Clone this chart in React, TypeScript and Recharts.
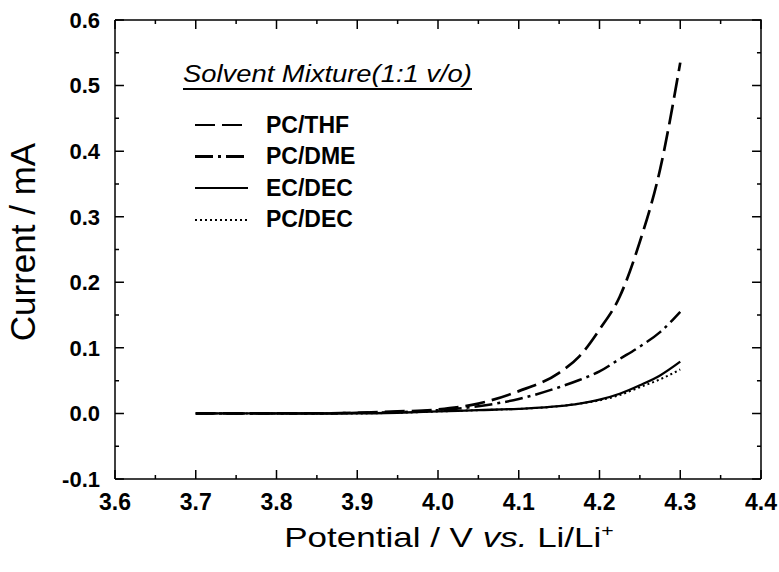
import React from 'react';
import { LineChart, Line, XAxis, YAxis, Legend } from 'recharts';

// Potential (V vs. Li/Li+) and current (mA)
const potentials = [3.7, 3.75, 3.8, 3.85, 3.9, 3.95, 4.0, 4.05, 4.1, 4.15, 4.175, 4.2, 4.225, 4.25, 4.275, 4.3];
const pcThf = [0, 0, 0, 0, 0.001, 0.003, 0.006, 0.015, 0.034, 0.062, 0.087, 0.128, 0.178, 0.262, 0.372, 0.535];
const pcDme = [0, 0, 0, 0, 0.001, 0.002, 0.005, 0.011, 0.022, 0.04, 0.051, 0.064, 0.083, 0.102, 0.124, 0.155];
const ecDec = [0, 0, 0, 0, 0, 0.001, 0.003, 0.005, 0.007, 0.011, 0.015, 0.021, 0.03, 0.043, 0.058, 0.079];
const pcDec = [0, 0, 0, 0, 0, 0.001, 0.003, 0.005, 0.007, 0.011, 0.015, 0.02, 0.028, 0.04, 0.052, 0.067];

const xTicks = [3.6, 3.65, 3.7, 3.75, 3.8, 3.85, 3.9, 3.95, 4.0, 4.05, 4.1, 4.15, 4.2, 4.25, 4.3, 4.35, 4.4];
const yTicks = [-0.1, -0.05, 0, 0.05, 0.1, 0.15, 0.2, 0.25, 0.3, 0.35, 0.4, 0.45, 0.5, 0.55, 0.6];
const X_DOMAIN: [number, number] = [3.6, 4.4];
const Y_DOMAIN: [number, number] = [-0.1, 0.6];

const series = [
  { key: 'thf', name: 'PC/THF', dash: '20 7', width: 2.7 },
  { key: 'dme', name: 'PC/DME', dash: '18 5 3 5', width: 2.5 },
  { key: 'ec', name: 'EC/DEC', dash: undefined, width: 2.3 },
  { key: 'dec', name: 'PC/DEC', dash: '2 3', width: 2 },
];

const data = potentials.map((x, i) => ({
  x,
  thf: pcThf[i],
  dme: pcDme[i],
  ec: ecDec[i],
  dec: pcDec[i],
}));

const FONT = '"Liberation Sans", Arial, Helvetica, sans-serif';
const isMajor = (v: number) => Math.abs(Math.round(v * 100)) % 10 === 0;
const fmt = (v: number) => (isMajor(v) ? v.toFixed(1) : '');

// inward tick lengths in data units (about 9px major / 4px minor)
const xLen = (v: number) => (isMajor(v) ? 0.0137 : 0.0061);
const yLen = (v: number) => (isMajor(v) ? 0.0111 : 0.005);

// tick marks as broken polylines (null breaks the path), drawn through the chart scales
const bottomMarks = xTicks.flatMap((v) => [
  { x: v, t: Y_DOMAIN[0] }, { x: v, t: Y_DOMAIN[0] + xLen(v) }, { x: v, t: null },
]);
const topMarks = xTicks.flatMap((v) => [
  { x: v, t: Y_DOMAIN[1] }, { x: v, t: Y_DOMAIN[1] - xLen(v) }, { x: v, t: null },
]);
const leftMarks = yTicks.flatMap((v) => [
  { x: X_DOMAIN[0], t: v }, { x: X_DOMAIN[0] + yLen(v), t: v }, { x: X_DOMAIN[0] + yLen(v), t: null },
]);
const rightMarks = yTicks.flatMap((v) => [
  { x: X_DOMAIN[1], t: v }, { x: X_DOMAIN[1] - yLen(v), t: v }, { x: X_DOMAIN[1] - yLen(v), t: null },
]);
const frameTopRight = [
  { x: X_DOMAIN[0], t: Y_DOMAIN[1] }, { x: X_DOMAIN[1], t: Y_DOMAIN[1] }, { x: X_DOMAIN[1], t: Y_DOMAIN[0] },
];
const marks = [frameTopRight, bottomMarks, topMarks, leftMarks, rightMarks];

// dasharray -> css stripes for the legend samples
const stripes = (dash?: string) => {
  if (!dash) return '#000';
  const parts = dash.split(' ').map(Number);
  let pos = 0;
  const stops = parts.map((len, i) => {
    const c = i % 2 === 0 ? '#000' : 'transparent';
    const s = `${c} ${pos}px ${pos + len}px`;
    pos += len;
    return s;
  });
  return `repeating-linear-gradient(to right, ${stops.join(', ')})`;
};

const LegendBox = () => (
  <div style={{ position: 'relative', width: 310, height: 180, fontFamily: FONT, color: '#000' }}>
    <div style={{ position: 'absolute', left: 3, top: 7, fontSize: 24, lineHeight: '24px', fontStyle: 'italic',
      whiteSpace: 'nowrap', transform: 'scaleX(1.14)', transformOrigin: 'left center' }}>
      Solvent Mixture(1:1 v/o)
    </div>
    <div style={{ position: 'absolute', left: 3, top: 33, width: 289, height: 2, background: '#000' }} />
    {series.map((s, i) => {
      const cy = 70 + i * 31.5;
      return (
        <React.Fragment key={s.key}>
          <div style={{ position: 'absolute', left: 15, top: cy - s.width / 2, width: 53, height: s.width,
            background: stripes(s.dash) }} />
          <div style={{ position: 'absolute', left: 86, top: cy - 11.5, fontSize: 23, lineHeight: '23px',
            fontWeight: 'bold', whiteSpace: 'nowrap' }}>
            {s.name}
          </div>
        </React.Fragment>
      );
    })}
  </div>
);

// axis titles as html over the chart
const Titles = () => (
  <>
    <div style={{ position: 'absolute', left: 449, top: 524, fontFamily: FONT, fontSize: 28, lineHeight: '28px',
      whiteSpace: 'nowrap', transform: 'translateX(-50%) scaleX(1.25)', color: '#000', pointerEvents: 'none' }}>
      Potential / V <i>vs.</i> Li/Li<span style={{ fontSize: 17, position: 'relative', top: -11 }}>+</span>
    </div>
    <div style={{ position: 'absolute', left: 22, top: 242, fontFamily: FONT, fontSize: 35, lineHeight: '35px',
      whiteSpace: 'nowrap', transform: 'translate(-50%, -50%) rotate(-90deg)', color: '#000', pointerEvents: 'none' }}>
      Current / mA
    </div>
  </>
);

export default function App() {
  return (
    <div style={{ position: 'relative', width: 779, height: 572, background: '#fff' }}>
      <style>{`body{margin:0;background:#fff}`}</style>
      <LineChart width={779} height={572} data={data} margin={{ top: 20, right: 18, bottom: 0, left: 0 }}>
        <XAxis
          xAxisId="main"
          dataKey="x"
          type="number"
          domain={X_DOMAIN}
          ticks={xTicks}
          interval={0}
          height={93}
          tickSize={0}
          tickMargin={15}
          tickLine={false}
          tickFormatter={fmt}
          axisLine={{ stroke: '#000', strokeWidth: 1.5 }}
          tick={{ fill: '#000', fontSize: 23, fontWeight: 'bold', fontFamily: FONT }}
        />
        <YAxis
          yAxisId="main"
          type="number"
          domain={Y_DOMAIN}
          ticks={yTicks}
          interval={0}
          width={115}
          tickSize={0}
          tickMargin={15}
          tickLine={false}
          tickFormatter={fmt}
          axisLine={{ stroke: '#000', strokeWidth: 1.5 }}
          tick={{ fill: '#000', fontSize: 22, fontWeight: 'bold', fontFamily: FONT }}
        />
        {marks.map((m, i) => (
          <Line
            key={`mark${i}`}
            xAxisId="main"
            yAxisId="main"
            data={m}
            dataKey="t"
            type="linear"
            stroke="#000"
            strokeWidth={1.5}
            dot={false}
            connectNulls={false}
            legendType="none"
            isAnimationActive={false}
          />
        ))}
        <Legend
          layout="vertical"
          align="center"
          verticalAlign="middle"
          wrapperStyle={{ left: 180, top: 55, width: 310 }}
          content={<LegendBox />}
        />
        {series.map((s) => (
          <Line
            key={s.key}
            xAxisId="main"
            yAxisId="main"
            type="monotone"
            dataKey={s.key}
            stroke="#000"
            strokeWidth={s.width}
            strokeDasharray={s.dash}
            dot={false}
            isAnimationActive={false}
          />
        ))}
      </LineChart>
      <Titles />
    </div>
  );
}
